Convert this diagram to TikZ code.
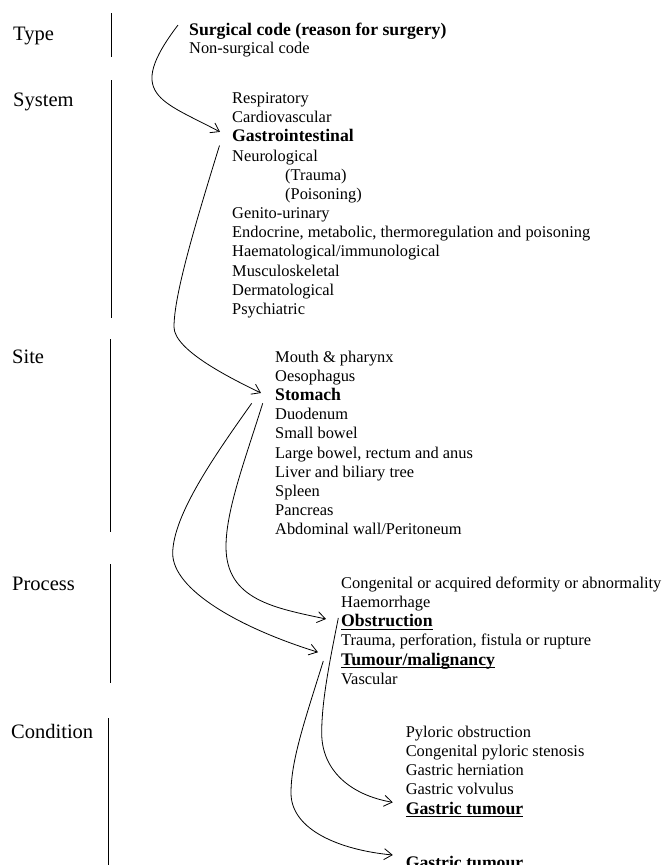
\documentclass[tikz,border=0pt]{standalone}
\usepackage{fontspec}
\setmainfont{Liberation Serif}
\usetikzlibrary{arrows.meta}
\newcommand{\ulword}[1]{\setbox0\hbox{#1}\leavevmode\rlap{\rule[-3.2pt]{\wd0}{1.1pt}}\box0}
\tikzset{
  item/.style={anchor=base west, inner sep=0pt, font=\fontsize{16.4}{19}\selectfont},
  bitem/.style={item, font=\fontsize{17.7}{21}\selectfont\bfseries},
  level/.style={anchor=base west, inner sep=0pt, font=\fontsize{20.5}{24}\selectfont},
  link/.style={-{Straight Barb[length=8pt,width=11pt]}, line width=0.8pt},
}
\begin{document}
\begin{tikzpicture}[x=1pt,y=-1pt]
    \useasboundingbox (0,0) rectangle (666,865);
    \clip (0,0) rectangle (666,865);
    \node[level] (type) at (13,40) {Type};
    \node[level] (system) at (13,106) {System};
    \node[level] (site) at (12,363) {Site};
    \node[level] (process) at (12,590) {Process};
    \node[level] (condition) at (11,738) {Condition};
    \foreach \x/\a/\b in {111/13/57, 111/80/318, 110/339/532, 110/564/683, 108/718/870}
        \draw[line width=0.9pt] (\x,\a) -- (\x,\b);
    \node[bitem] (surg) at (189,35.5) {Surgical code (reason for surgery)};
    \node[item] (nonsurg) at (189,53) {Non-surgical code};
    \node[item] (resp) at (232,103.5) {Respiratory};
    \node[item] (cardio) at (232,122.7) {Cardiovascular};
    \node[bitem] (gastro) at (232,141.9) {Gastrointestinal};
    \node[item] (neuro) at (232,161) {Neurological};
    \node[item] (trauma) at (285,180.2) {(Trauma)};
    \node[item] (poison) at (285,199.4) {(Poisoning)};
    \foreach \t [count=\i from 0] in {Genito-urinary, {Endocrine, metabolic, thermoregulation and poisoning},
        Haematological/immunological, Musculoskeletal, Dermatological, Psychiatric}
        \node[item] (sys\i) at (232,218.6+19.18*\i) {\t};
    \node[item] (mouth) at (275,362) {Mouth \& pharynx};
    \node[item] (oes) at (275,381.2) {Oesophagus};
    \node[bitem] (stomach) at (275,400.4) {Stomach};
    \foreach \t [count=\i from 0] in {Duodenum, Small bowel, {Large bowel, rectum and anus},
        Liver and biliary tree, Spleen, Pancreas, Abdominal wall/Peritoneum}
        \node[item] (site\i) at (275,419.6+19.2*\i) {\t};
    \node[item] (congen) at (341,588) {Congenital or acquired deformity or abnormality};
    \node[item] (haem) at (341,607.3) {Haemorrhage};
    \node[bitem] (obstr) at (341,626.6) {\ulword{Obstruction}};
    \node[item] (rupture) at (341,645.9) {Trauma, perforation, fistula or rupture};
    \node[bitem] (tumour) at (341,665.2) {\ulword{Tumour/malignancy}};
    \node[item] (vasc) at (341,684.5) {Vascular};
    \foreach \t [count=\i from 0] in {Pyloric obstruction, Congenital pyloric stenosis,
        Gastric herniation, Gastric volvulus}
        \node[item] (cond\i) at (405.6,737+19.2*\i) {\t};
    \node[bitem] (gtum) at (405.6,814) {\ulword{Gastric tumour}};
    \node[bitem] (gtumb) at (405.6,868) {\ulword{Gastric tumour}};
    \draw[link] ([shift={(-11,-10.5)}]surg.base west) .. controls (125,95) and (160,100)
        .. ([shift={(-12,-10)}]gastro.base west);
    \draw[link] ([shift={(-12.5,3.6)}]gastro.base west) .. controls (195,225) and (174,295) .. (174,327)
        .. controls (174,350) and (230,378) .. ([shift={(-14,-7.4)}]stomach.base west);
    \draw[link] ([shift={(-23.3,2.9)}]stomach.base west) .. controls (215,455) and (173,515) .. (172.7,553.3)
        .. controls (172.7,590) and (240,628) .. ([shift={(-23,-13)}]tumour.base west);
    \draw[link] ([shift={(-12.3,2.9)}]stomach.base west) .. controls (245,460) and (226,510) .. (226,546.7)
        .. controls (226,600) and (275,608) .. ([shift={(-15,-7.6)}]obstr.base west);
    \draw[link] ([shift={(-2.7,-8.6)}]obstr.base west) .. controls (330,660) and (321.7,700) .. (321.7,733)
        .. controls (321.7,770) and (350,795) .. ([shift={(-12.8,-11.7)}]gtum.base west);
    \draw[link] ([shift={(-17.7,-4.2)}]tumour.base west) .. controls (305,720) and (291,760) .. (291,793)
        .. controls (291,830) and (340,850) .. ([shift={(-12.8,-13)}]gtumb.base west);
\end{tikzpicture}
\end{document}
